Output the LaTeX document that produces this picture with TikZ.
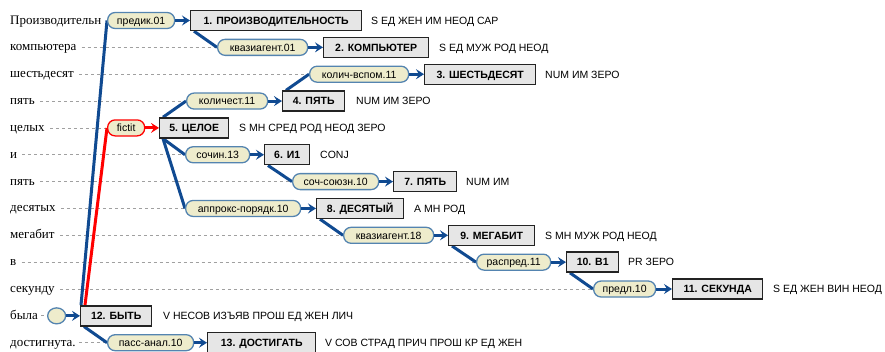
\documentclass[tikz,border=0pt]{standalone}
\usepackage{fontspec}
\setmainfont{Liberation Serif}
\setsansfont{Liberation Sans}
\usetikzlibrary{arrows.meta,backgrounds,calc,shapes.geometric}
\definecolor{linkblue}{RGB}{16,74,145}
\definecolor{pillborder}{RGB}{84,132,176}
\definecolor{pillfill}{RGB}{238,236,204}
\definecolor{boxfill}{RGB}{230,230,230}
\definecolor{boxborder}{RGB}{35,35,35}
\definecolor{dashgray}{RGB}{160,160,160}
\definecolor{redlink}{RGB}{255,0,0}
\begin{document}
\begin{tikzpicture}[x=1pt,y=-1pt,
  word/.style={anchor=base west,inner sep=0pt,font=\rmfamily\fontsize{13}{15}\selectfont},
  pill/.style={anchor=west,draw=pillborder,fill=pillfill,rounded corners=7.5pt,line width=1.3pt,
    inner xsep=2pt,inner ysep=0pt,minimum height=16pt,text height=7.6pt,text depth=0pt,
    font=\sffamily\fontsize{10.5}{12}\selectfont},
  redpill/.style={pill,draw=redlink},
  dotnode/.style={anchor=west,draw=pillborder,fill=pillfill,ellipse,line width=1.3pt,
    minimum width=18pt,minimum height=16pt,inner sep=0pt},
  box/.style={anchor=west,draw=boxborder,fill=boxfill,line width=1.4pt,
    inner xsep=2pt,inner ysep=0pt,minimum height=20pt,text height=7.6pt,text depth=0pt,
    font=\sffamily\bfseries\fontsize{10.5}{12}\selectfont},
  tag/.style={anchor=west,inner sep=0pt,text height=7.6pt,text depth=0pt,
    font=\sffamily\fontsize{10.5}{12}\selectfont},
  link/.style={draw=linkblue,line width=3pt},
  redline/.style={draw=redlink,line width=3pt},
  arr/.style={draw=linkblue,line width=3pt,-{Stealth[length=8pt,width=10pt,inset=3pt]}},
  redarr/.style={draw=redlink,line width=3pt,-{Stealth[length=8pt,width=10pt,inset=3pt]}},
  dashln/.style={draw=dashgray,line width=0.8pt,dash pattern=on 3pt off 3pt}
]
\useasboundingbox (0,0) rectangle (885,351);
\clip (0,0) rectangle (885,351);

% row 1
\node[word] (w1) at (10,24.0) {Производительн};
\node[pill,minimum width=67pt] (p1) at (107,20.5) {предик.01};
\node[box,minimum width=171pt] (b1) at (190,20.5) {1. ПРОИЗВОДИТЕЛЬНОСТЬ};
\node[tag] (t1) at (371,20.5) {S ЕД ЖЕН ИМ НЕОД САР};
% row 2
\node[word] (w2) at (10,50.85) {компьютера};
\node[pill,minimum width=90pt] (p2) at (217,47.35) {квазиагент.01};
\node[box,minimum width=105pt] (b2) at (323,47.35) {2. КОМПЬЮТЕР};
\node[tag] (t2) at (439,47.35) {S ЕД МУЖ РОД НЕОД};
% row 3
\node[word] (w3) at (10,77.7) {шестьдесят};
\node[pill,minimum width=99pt] (p3) at (309,74.2) {колич-вспом.11};
\node[box,minimum width=111pt] (b3) at (424,74.2) {3. ШЕСТЬДЕСЯТ};
\node[tag] (t3) at (545,74.2) {NUM ИМ ЗЕРО};
% row 4
\node[word] (w4) at (10,104.55) {пять};
\node[pill,minimum width=81pt] (p4) at (186,101.05) {количест.11};
\node[box,minimum width=62pt] (b4) at (282,101.05) {4. ПЯТЬ};
\node[tag] (t4) at (356,101.05) {NUM ИМ ЗЕРО};
% row 5
\node[word] (w5) at (10,131.4) {целых};
\node[redpill,minimum width=37pt] (p5) at (107,127.9) {fictit};
\node[box,minimum width=69pt] (b5) at (159,127.9) {5. ЦЕЛОЕ};
\node[tag] (t5) at (239,127.9) {S МН СРЕД РОД НЕОД ЗЕРО};
% row 6
\node[word] (w6) at (10,158.25) {и};
\node[pill,minimum width=64pt] (p6) at (185,154.75) {сочин.13};
\node[box,minimum width=45pt] (b6) at (264,154.75) {6. И1};
\node[tag] (t6) at (320,154.75) {CONJ};
% row 7
\node[word] (w7) at (10,185.1) {пять};
\node[pill,minimum width=86pt] (p7) at (292,181.6) {соч-союзн.10};
\node[box,minimum width=63pt] (b7) at (393,181.6) {7. ПЯТЬ};
\node[tag] (t7) at (466,181.6) {NUM ИМ};
% row 8
\node[word] (w8) at (10,211.95) {десятых};
\node[pill,minimum width=115pt] (p8) at (185,208.45) {аппрокс-порядк.10};
\node[box,minimum width=87pt] (b8) at (316,208.45) {8. ДЕСЯТЫЙ};
\node[tag] (t8) at (414,208.45) {А МН РОД};
% row 9
\node[word] (w9) at (10,238.8) {мегабит};
\node[pill,minimum width=90pt] (p9) at (343,235.3) {квазиагент.18};
\node[box,minimum width=86pt] (b9) at (448,235.3) {9. МЕГАБИТ};
\node[tag] (t9) at (545,235.3) {S МН МУЖ РОД НЕОД};
% row 10
\node[word] (w10) at (10,265.65) {в};
\node[pill,minimum width=74pt] (p10) at (476,262.15) {распред.11};
\node[box,minimum width=52pt] (b10) at (566,262.15) {10. В1};
\node[tag] (t10) at (628,262.15) {PR ЗЕРО};
% row 11
\node[word] (w11) at (10,292.5) {секунду};
\node[pill,minimum width=62pt] (p11) at (593,289.0) {предл.10};
\node[box,minimum width=90pt] (b11) at (672,289.0) {11. СЕКУНДА};
\node[tag] (t11) at (773,289.0) {S ЕД ЖЕН ВИН НЕОД};
% row 12
\node[word] (w12) at (10,319.35) {была};
\node[dotnode] (c12) at (47,315.85) {};
\node[box,minimum width=71pt] (b12) at (80,315.85) {12. БЫТЬ};
\node[tag] (t12) at (163,315.85) {V НЕСОВ ИЗЪЯВ ПРОШ ЕД ЖЕН ЛИЧ};
% row 13
\node[word] (w13) at (10,346.2) {достигнута.};
\node[pill,minimum width=86pt] (p13) at (107,342.7) {пасс-анал.10};
\node[box,minimum width=108pt] (b13) at (207,342.7) {13. ДОСТИГАТЬ};
\node[tag] (t13) at (325,342.7) {V СОВ СТРАД ПРИЧ ПРОШ КР ЕД ЖЕН};

\begin{scope}[on background layer]
  % dashed guide lines
  \draw[dashln] ($(w2.east|-p2.west)+(5,0)$) -- (p2.west);
  \draw[dashln] ($(w3.east|-p3.west)+(5,0)$) -- (p3.west);
  \draw[dashln] ($(w4.east|-p4.west)+(5,0)$) -- (p4.west);
  \draw[dashln] ($(w5.east|-p5.west)+(5,0)$) -- (p5.west);
  \draw[dashln] ($(w6.east|-p6.west)+(5,0)$) -- (p6.west);
  \draw[dashln] ($(w7.east|-p7.west)+(5,0)$) -- (p7.west);
  \draw[dashln] ($(w8.east|-p8.west)+(5,0)$) -- (p8.west);
  \draw[dashln] ($(w9.east|-p9.west)+(5,0)$) -- (p9.west);
  \draw[dashln] ($(w10.east|-p10.west)+(5,0)$) -- (p10.west);
  \draw[dashln] ($(w11.east|-p11.west)+(5,0)$) -- (p11.west);
  \draw[dashln] ($(w12.east|-c12.west)+(3,0)$) -- (c12.west);
  \draw[dashln] ($(w13.east|-p13.west)+(3,0)$) -- (p13.west);
  % dependency links
  \draw[link] ([xshift=1pt]b12.north west) -- (p1.west);
  \draw[redline] ([xshift=5pt]b12.north west) -- (p5.west);
  \draw[link] ([xshift=4pt]b1.south west) -- (p2.west);
  \draw[link] ([xshift=4pt]b4.north west) -- (p3.west);
  \draw[link] ([xshift=4pt]b5.north west) -- (p4.west);
  \draw[link] ([xshift=4pt]b5.south west) -- (p6.west);
  \draw[link] ([xshift=4pt]b5.south west) -- (p8.west);
  \draw[link] ([xshift=4pt]b6.south west) -- (p7.west);
  \draw[link] ([xshift=4pt]b8.south west) -- (p9.west);
  \draw[link] ([xshift=4pt]b9.south west) -- (p10.west);
  \draw[link] ([xshift=4pt]b10.south west) -- (p11.west);
  \draw[link] ([xshift=4pt]b12.south west) -- (p13.west);
\end{scope}

% arrows label -> word box
\draw[arr] (p1.east) -- (b1.west);
\draw[arr] (p2.east) -- (b2.west);
\draw[arr] (p3.east) -- (b3.west);
\draw[arr] (p4.east) -- (b4.west);
\draw[redarr] (p5.east) -- (b5.west);
\draw[arr] (p6.east) -- (b6.west);
\draw[arr] (p7.east) -- (b7.west);
\draw[arr] (p8.east) -- (b8.west);
\draw[arr] (p9.east) -- (b9.west);
\draw[arr] (p10.east) -- (b10.west);
\draw[arr] (p11.east) -- (b11.west);
\draw[arr] (c12.east) -- (b12.west);
\draw[arr] (p13.east) -- (b13.west);
\end{tikzpicture}
\end{document}
